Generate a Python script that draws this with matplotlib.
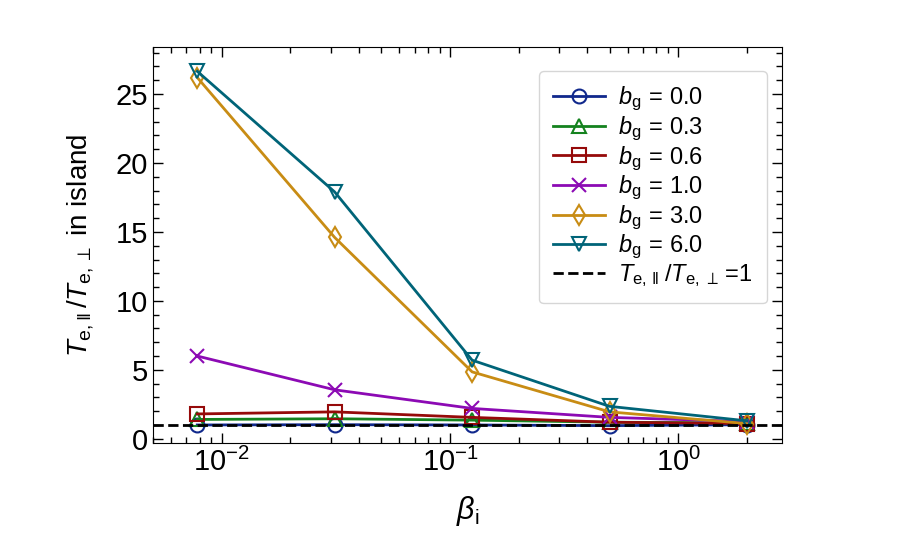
import matplotlib
matplotlib.use("Agg")
import matplotlib.pyplot as plt
from matplotlib.ticker import MultipleLocator, LogLocator

plt.rcParams['font.family'] = ['Liberation Sans', 'DejaVu Sans']
plt.rcParams['mathtext.fontset'] = 'custom'
plt.rcParams['mathtext.rm'] = 'Liberation Sans'
plt.rcParams['mathtext.it'] = 'Liberation Sans:italic'
plt.rcParams['mathtext.bf'] = 'Liberation Sans:bold'

beta_i = [2**-7, 2**-5, 2**-3, 2**-1, 2**1]
bg_labels = ["0.0", "0.3", "0.6", "1.0", "3.0", "6.0"]
ratio_bg00 = [1.0, 1.02, 1.0, 0.95, 1.02]
ratio_bg03 = [1.4, 1.45, 1.35, 1.2, 1.15]
ratio_bg06 = [1.8, 1.95, 1.55, 1.2, 1.1]
ratio_bg10 = [6.0, 3.55, 2.2, 1.55, 1.25]
ratio_bg30 = [26.2, 14.6, 4.85, 1.95, 1.1]
ratio_bg60 = [26.65, 17.9, 5.7, 2.35, 1.3]

series = [ratio_bg00, ratio_bg03, ratio_bg06, ratio_bg10, ratio_bg30, ratio_bg60]
colors = ['#10288c', '#14821e', '#960a0a', '#8c0ab4', '#c88c14', '#006478']
markers = ['o', '^', 's', 'x', 'd', 'v']

fig = plt.figure(figsize=(9, 5.55), dpi=100)
ax = fig.add_axes([0.17, 0.202, 0.699, 0.713])

for vals, c, m, lab in zip(series, colors, markers, bg_labels):
    ax.plot(beta_i, vals, color=c, marker=m, markersize=10, markerfacecolor='none',
            markeredgewidth=1.5, linewidth=2,
            label=r'$b_{\mathrm{g}}\,=\,$' + lab)

ax.axhline(1, color='black', linestyle='--', linewidth=2,
           label=r'$T_{\mathrm{e},\,\Vert}\;/T_{\mathrm{e},\,\perp}\,$=1')

ax.set_xscale('log')
ax.set_xlim(0.005, 2.85)
ax.set_ylim(-0.3, 28.4)
ax.yaxis.set_major_locator(MultipleLocator(5))
ax.yaxis.set_minor_locator(MultipleLocator(1))
ax.xaxis.set_minor_locator(LogLocator(base=10, subs=range(2, 10), numticks=20))

ax.tick_params(which='both', direction='in', top=True, right=True, labelsize=21)
ax.tick_params(which='major', length=7, width=1)
ax.tick_params(which='minor', length=4, width=1)

ax.set_xlabel(r'$\beta_{\mathrm{i}}$', fontsize=22, labelpad=12)
ax.set_ylabel(r'$T_{\mathrm{e},\Vert}\,/T_{\mathrm{e},\perp}$ in island', fontsize=20,
              labelpad=14)

ax.legend(loc='upper right', fontsize=17, handlelength=2.2, borderpad=0.6,
          labelspacing=0.05, handletextpad=0.55, borderaxespad=0.5,
          bbox_to_anchor=(0.995, 0.97))

fig.savefig('out.png', dpi=100)
